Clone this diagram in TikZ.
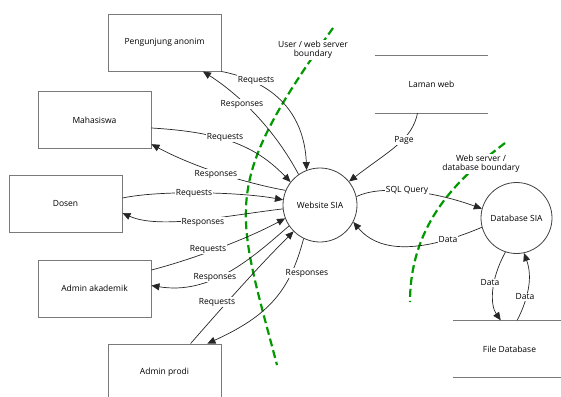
\documentclass[tikz,border=0pt]{standalone}
\usepackage{fontspec}
\setmainfont{Open Sans}
\usetikzlibrary{arrows.meta}
\definecolor{bnd}{HTML}{009900}
\definecolor{edge}{HTML}{7A7A7A}
\begin{document}
\begin{tikzpicture}[x=1pt,y=-1pt,
  font=\fontsize{8.5}{10}\selectfont,
  entity/.style={draw=edge, line width=0.9pt, minimum width=113pt, minimum height=57pt, inner sep=0pt},
  process/.style={circle, draw=black!75, line width=0.8pt, inner sep=0pt},
  store/.style={minimum width=113pt, minimum height=57pt, inner sep=0pt},
  storeline/.style={draw=edge, line width=0.9pt},
  flow/.style={draw=black!85, line width=0.7pt, -{Triangle[length=8pt,width=7pt]}},
  lbl/.style={fill=white, inner sep=1pt},
  boundary/.style={draw=bnd, line width=2.2pt, dash pattern=on 8pt off 4pt},
  blbl/.style={fill=white, inner sep=1pt, align=center, font=\fontsize{8.5}{9.5}\selectfont},
]
\useasboundingbox (0,0) rectangle (561,396);

% external entities
\node[entity] (pa) at (164.5,42.5)  {Pengunjung anonim};
\node[entity] (ma) at (94.5,120)    {Mahasiswa};
\node[entity] (do) at (65.5,204)    {Dosen};
\node[entity] (ak) at (94.5,288.5)  {Admin akademik};
\node[entity] (ap) at (164.5,372.5) {Admin prodi};

% processes
\node[process, minimum size=74pt] (web) at (320,205)   {Website SIA};
\node[process, minimum size=71pt] (db)  at (516.5,218) {Database SIA};

% data stores
\node[store] (lw) at (431.5,84.5) {Laman web};
\draw[storeline] (lw.north west) -- (lw.north east);
\draw[storeline] (lw.south west) -- (lw.south east);
\node[store] (fd) at (509.5,349) {File Database};
\draw[storeline] (fd.north west) -- (fd.north east);
\draw[storeline] (fd.south west) -- (fd.south east);

% trust boundaries
\draw[boundary] (333,28) .. controls (220,186) and (235,206) .. (277,365);
\draw[boundary] (505,143) .. controls (470,170) and (410,215) .. (410,302);

% data flows between users and the website
\draw[flow] (pa.south east) .. controls (290,85) and (305,130) .. (web.111);
\draw[flow] (web.125) .. controls (275,130) and (240,95) .. (pa.-37);
\draw[flow] (ma.-8) .. controls (220,132) and (255,145) .. (web.142);
\draw[flow] (web.157) .. controls (240,182) and (190,165) .. (ma.-23.5);
\draw[flow] (do.6) .. controls (160,190) and (240,192) .. (web.172);
\draw[flow] (web.186) .. controls (230,215) and (160,230) .. (do.-9);
\draw[flow] (ak.18) .. controls (190,260) and (245,240) .. (web.201);
\draw[flow] (web.214) .. controls (250,260) and (210,295) .. (ak.3.5);
\draw[flow] (ap.48.2) .. controls (220,310) and (255,270) .. (web.225);
\draw[flow] (web.244) .. controls (290,290) and (270,315) .. (ap.34.8);

% data flows between website, pages and database
\draw[flow] (lw.244.6) .. controls (412,140) and (390,150) .. (web.39);
\draw[flow] (web.13) .. controls (380,185) and (430,190) .. (db.165);
\draw[flow] (db.195) .. controls (440,245) and (385,260) .. (web.333);
\draw[flow] (db.252) .. controls (490,280) and (490,305) .. (fd.107);
\draw[flow] (fd.75) .. controls (530,295) and (532,275) .. (db.282);

% flow labels
\node[lbl] (l1)  at (256,80)  {Requests};
\node[lbl] (l2)  at (242,104) {Responses};
\node[lbl] (l3)  at (225,137) {Requests};
\node[lbl] (l4)  at (216,174) {Responses};
\node[lbl] (l5)  at (194,193) {Requests};
\node[lbl] (l6)  at (203,222) {Responses};
\node[lbl] (l7)  at (208,249) {Requests};
\node[lbl] (l8)  at (215,277) {Responses};
\node[lbl] (l9)  at (217,302) {Requests};
\node[lbl] (l10) at (307,273) {Responses};
\node[lbl] (l11) at (404,140) {Page};
\node[lbl] (l12) at (407,190) {SQL Query};
\node[lbl] (l13) at (448,240) {Data};
\node[lbl] (l14) at (490,283) {Data};
\node[lbl] (l15) at (525,297) {Data};

% boundary labels
\node[blbl] (b1) at (313,50)  {User / web server\\boundary};
\node[blbl] (b2) at (481,164) {Web server /\\database boundary};
\end{tikzpicture}
\end{document}
